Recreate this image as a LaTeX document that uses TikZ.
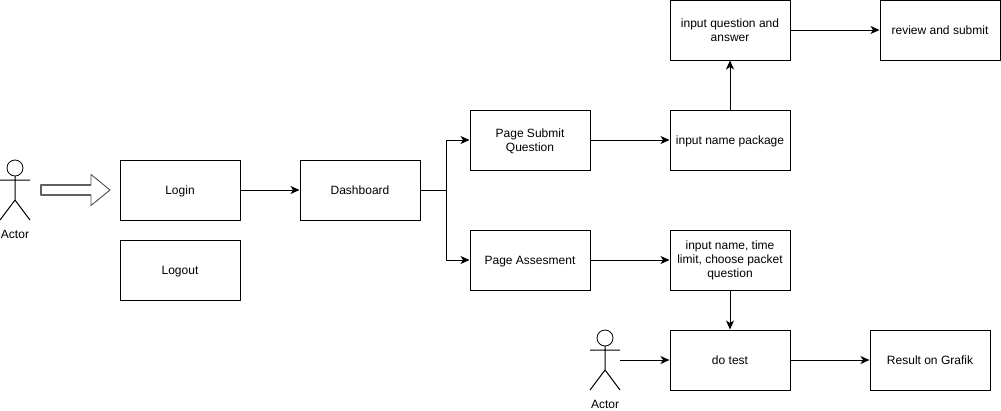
\documentclass[tikz,border=0pt]{standalone}
\usepackage{fontspec}
\setmainfont{Liberation Sans}
\usetikzlibrary{arrows.meta,positioning}
\tikzset{%
	process/.style = {draw, rectangle, minimum width=120pt, minimum height=60pt, inner sep=0pt, align=center, text height=10.5pt, text depth=2.5pt, font=\fontsize{12}{14}\selectfont, line width=1pt},
	twolines/.style = {text height=26pt, text depth=2.6pt},
	threelines/.style = {text height=38.5pt, text depth=3pt},
	arrow/.style   = {line width=1pt, -{Stealth[length=9pt,width=8pt,inset=2.5pt]}},
	label/.style   = {inner sep=0pt, font=\fontsize{12}{14}\selectfont},
	actor/.pic     = {
		\draw[line width=.8pt] (0,-12) circle (8pt);
		\draw[line width=1pt] (0,-4) -- (0,20) (-15,0) -- (15,0) (-15,40) -- (0,20) -- (15,40);
	},
}
\begin{document}
\begin{tikzpicture}[x=1pt,y=-1pt]
	\useasboundingbox (0,0) rectangle (1001,410);
	
	\node[process] (login) at (180,190) {Login};
	\node[process] (logout) at (180,270) {Logout};
	\node[process] (dashboard) at (360,190) {Dashboard};
	\node[process,twolines] (pagesubmit) at (530,140) {Page Submit\\Question};
	\node[process] (pageassesment) at (530,260) {Page Assesment};
	\node[process] (namepackage) at (730,140) {input name package};
	\node[process,twolines] (inputquestion) at (730,30) {input question and\\answer};
	\node[process] (review) at (940,30) {review and submit};
	\node[process,threelines] (namelimit) at (730,260) {input name, time\\limit, choose packet\\question};
	\node[process] (dotest) at (730,360) {do test};
	\node[process] (result) at (930,360) {Result on Grafik};
	
	\pic at (15,180) {actor};
	\node[label] (actora) at (15,234) {Actor};
	\pic at (605,350) {actor};
	\node[label] (actorb) at (605,404) {Actor};
	\coordinate (actorbhand) at (620,360);
	\coordinate (branch) at (446,190);
	
	\draw[gray!75!black, line width=1.6pt, line join=round] (91,185) -- (41,185) -- (41,195) -- (91,195);
	\draw[gray!60!black, line width=.9pt, line join=miter] (91,185) -- (91,174.5) -- (110,190) -- (91,205.5) -- (91,195);
	
	\draw[arrow] (login) -- (dashboard);
	\draw[line width=1pt] (dashboard) -- (branch);
	\draw[arrow] (branch) |- (pagesubmit);
	\draw[arrow] (branch) |- (pageassesment);
	\draw[arrow] (pagesubmit) -- (namepackage);
	\draw[arrow] (namepackage) -- (inputquestion);
	\draw[arrow] (inputquestion) -- (review);
	\draw[arrow] (pageassesment) -- (namelimit);
	\draw[arrow] (namelimit) -- (dotest);
	\draw[arrow] (actorbhand) -- (dotest);
	\draw[arrow] (dotest) -- (result);
\end{tikzpicture}
\end{document}
